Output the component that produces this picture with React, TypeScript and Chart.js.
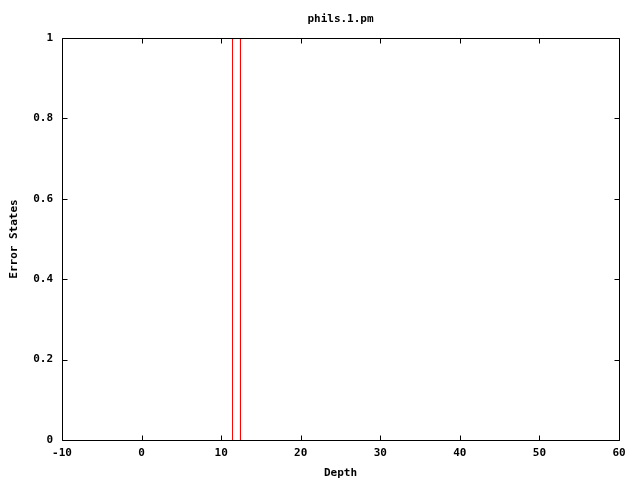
import React, { useEffect, useRef } from "react";
import { Chart, registerables } from "chart.js";

Chart.register(...registerables);

const TITLE = "phils.1.pm";
const X_LABEL = "Depth";
const Y_LABEL = "Error States";
const X_MIN = -10;
const X_MAX = 60;
const X_STEP = 10;
const Y_MIN = 0;
const Y_MAX = 1;
const Y_STEP = 0.2;
// Box outline (gnuplot "boxes" style) of the single error state
const depthValues = [11.43, 11.43, 12.43, 12.43];
const errorValues = [0, 1, 1, 0];

const FONT = "'DejaVu Sans Mono', 'Liberation Mono', monospace";

const framePlugin = {
  id: "gnuFrame",
  afterDatasetsDraw(chart: any) {
    const { ctx, chartArea, scales } = chart;
    const { left, right, top, bottom } = chartArea;
    ctx.save();
    ctx.strokeStyle = "#000";
    ctx.lineWidth = 1;
    ctx.beginPath();
    const L = Math.round(left) + 0.5;
    const R = Math.round(right) + 0.5;
    const T = Math.round(top) + 0.5;
    const B = Math.round(bottom) + 0.5;
    ctx.rect(L, T, R - L, B - T);
    const tl = 5;
    for (let v = X_MIN; v <= X_MAX + 1e-9; v += X_STEP) {
      const x = Math.round(scales.x.getPixelForValue(v)) + 0.5;
      ctx.moveTo(x, B);
      ctx.lineTo(x, B - tl);
      ctx.moveTo(x, T);
      ctx.lineTo(x, T + tl);
    }
    for (let v = Y_MIN; v <= Y_MAX + 1e-9; v += Y_STEP) {
      const y = Math.round(scales.y.getPixelForValue(v)) + 0.5;
      ctx.moveTo(L, y);
      ctx.lineTo(L + tl, y);
      ctx.moveTo(R, y);
      ctx.lineTo(R - tl, y);
    }
    ctx.stroke();

    ctx.fillStyle = "#000";
    ctx.font = `bold 11px ${FONT}`;
    ctx.textAlign = "center";
    ctx.textBaseline = "middle";
    const cx = (left + right) / 2;
    ctx.fillText(TITLE, cx, 19);
    ctx.fillText(X_LABEL, cx, 473);
    ctx.translate(14, (top + bottom) / 2);
    ctx.rotate(-Math.PI / 2);
    ctx.fillText(Y_LABEL, 0, 0);
    ctx.restore();
  },
};

export default function App() {
  const ref = useRef<HTMLCanvasElement | null>(null);
  useEffect(() => {
    if (!ref.current) return;
    const chart = new Chart(ref.current, {
      type: "line",
      data: {
        datasets: [
          {
            data: depthValues.map((x, i) => ({ x, y: errorValues[i] })),
            borderColor: "#ff0000",
            borderWidth: 1,
            pointRadius: 0,
            fill: false,
            tension: 0,
          },
        ],
      },
      options: {
        animation: false,
        responsive: false,
        layout: { padding: { left: 0, right: 21, top: 38, bottom: 0 } },
        plugins: {
          legend: { display: false },
          title: { display: false },
          tooltip: { enabled: false },
        },
        scales: {
          x: {
            type: "linear",
            min: X_MIN,
            max: X_MAX,
            grid: { display: false, drawTicks: false },
            border: { display: false },
            ticks: {
              stepSize: X_STEP,
              color: "#000",
              font: { family: FONT, size: 11, weight: "bold" },
              padding: 7,
              maxRotation: 0,
            },
            afterFit(scale: any) {
              scale.height = 40;
            },
          },
          y: {
            type: "linear",
            min: Y_MIN,
            max: Y_MAX,
            grid: { display: false, drawTicks: false },
            border: { display: false },
            ticks: {
              stepSize: Y_STEP,
              color: "#000",
              font: { family: FONT, size: 11, weight: "bold" },
              padding: 9,
              callback: (v: any) => String(Math.round(Number(v) * 10) / 10),
            },
            afterFit(scale: any) {
              scale.width = 62;
            },
          },
        },
      },
      plugins: [framePlugin],
    });
    return () => chart.destroy();
  }, []);
  return (
    <div style={{ position: "absolute", left: 0, top: 0, width: 640, height: 480, background: "#fff" }}>
      <canvas ref={ref} width={640} height={480} style={{ width: 640, height: 480 }} />
    </div>
  );
}
